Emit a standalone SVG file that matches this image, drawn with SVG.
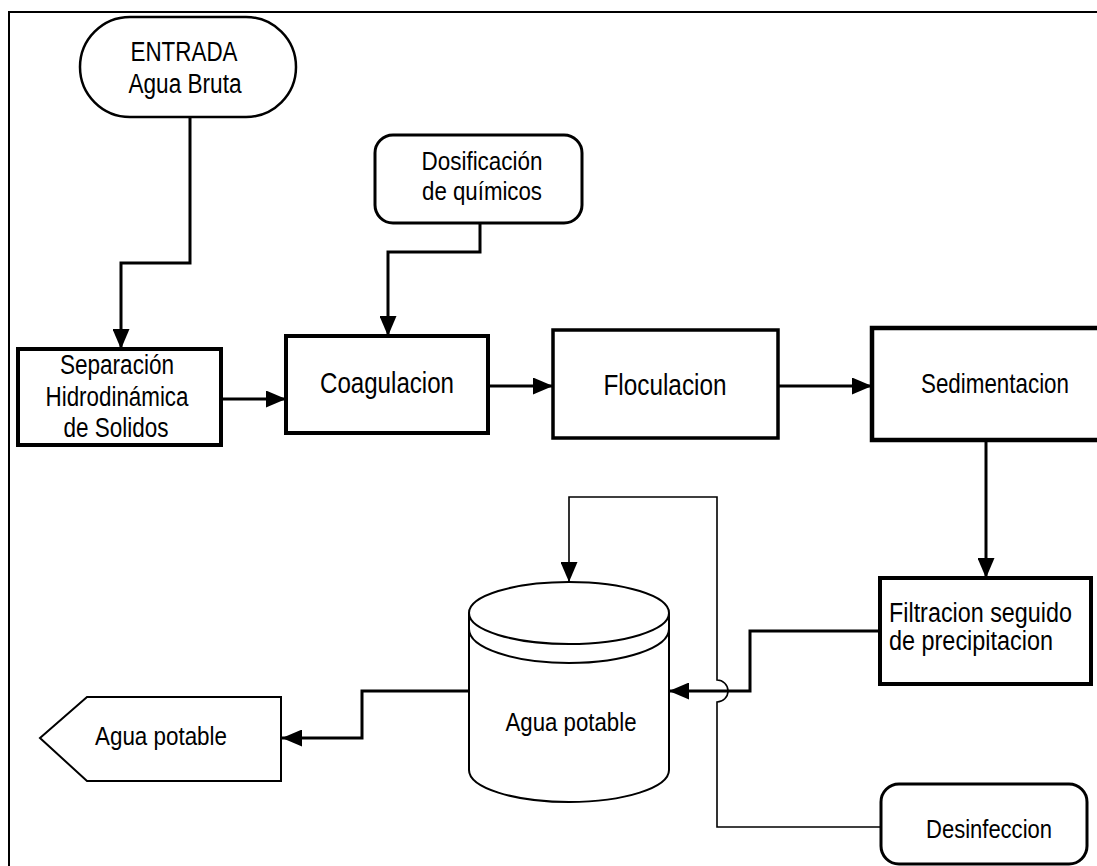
<svg xmlns="http://www.w3.org/2000/svg" width="1097" height="866" viewBox="0 0 1097 866">
<defs>
<style>
text{font-family:"Liberation Sans",Arial,sans-serif;fill:#000;text-anchor:middle}
.box{fill:#fff;stroke:#000;stroke-width:4}
.rnd{fill:#fff;stroke:#000;stroke-width:3}
.thin{fill:#fff;stroke:#000;stroke-width:2}
.con{fill:none;stroke:#000;stroke-width:3}
.tcon{fill:none;stroke:#000;stroke-width:1.6}
</style>
<marker id="ah" markerUnits="userSpaceOnUse" markerWidth="21" markerHeight="17" refX="20" refY="8.5" orient="auto">
<path d="M0,0 L20,8.5 L0,17 z" fill="#000"/>
</marker>
</defs>
<rect x="0" y="0" width="1097" height="866" fill="#fff"/>
<rect x="9" y="12" width="1100" height="870" fill="none" stroke="#000" stroke-width="2"/>

<g id="connectors">
<path class="con" d="M190,117 V263 H121 V349" marker-end="url(#ah)"/>
<path class="con" d="M480,223 V252 H388 V336" marker-end="url(#ah)"/>
<path class="con" d="M221,399 H286" marker-end="url(#ah)"/>
<path class="con" d="M488,386 H553" marker-end="url(#ah)"/>
<path class="con" d="M778,386 H872" marker-end="url(#ah)"/>
<path class="con" d="M986,440 V578" marker-end="url(#ah)"/>
<path class="con" d="M880,631 H750 V691 H669" marker-end="url(#ah)"/>
<path class="tcon" d="M881,827 H717 V702 A11,11 0 0 0 717,680 V497 H569 V582" marker-end="url(#ah)"/>
<path class="con" d="M469,691 H362 V738 H282" marker-end="url(#ah)"/>
</g>

<g id="entrada">
<rect x="80" y="17" width="216" height="100" rx="50" class="thin" style="stroke-width:2.5"/>
<text x="184" y="61" font-size="27" textLength="107" lengthAdjust="spacingAndGlyphs">ENTRADA</text>
<text x="185" y="93" font-size="27" textLength="113" lengthAdjust="spacingAndGlyphs">Agua Bruta</text>
</g>

<g id="dosificacion">
<rect x="375" y="135" width="207" height="88" rx="18" class="rnd"/>
<text x="482" y="170" font-size="26" textLength="121" lengthAdjust="spacingAndGlyphs">Dosificación</text>
<text x="482" y="200" font-size="26" textLength="120" lengthAdjust="spacingAndGlyphs">de químicos</text>
</g>

<g id="separacion">
<rect x="18" y="349" width="203" height="96" class="box"/>
<text x="117" y="374" font-size="27" textLength="114" lengthAdjust="spacingAndGlyphs">Separación</text>
<text x="117" y="406" font-size="27" textLength="143" lengthAdjust="spacingAndGlyphs">Hidrodinámica</text>
<text x="116" y="437" font-size="27" textLength="105" lengthAdjust="spacingAndGlyphs">de Solidos</text>
</g>

<g id="coagulacion">
<rect x="286" y="336" width="202" height="97" class="box"/>
<text x="387" y="393" font-size="30" textLength="134" lengthAdjust="spacingAndGlyphs">Coagulacion</text>
</g>

<g id="floculacion">
<rect x="553" y="330" width="225" height="108" class="box" style="stroke-width:3.5"/>
<text x="665" y="395" font-size="30" textLength="123" lengthAdjust="spacingAndGlyphs">Floculacion</text>
</g>

<g id="sedimentacion">
<rect x="872" y="328" width="246" height="112" class="box" style="stroke-width:4.5"/>
<text x="995" y="393" font-size="28" textLength="148" lengthAdjust="spacingAndGlyphs">Sedimentacion</text>
</g>

<g id="filtracion">
<rect x="880" y="578" width="211" height="106" class="box"/>
<text x="889" y="622" font-size="27" textLength="183" lengthAdjust="spacingAndGlyphs" style="text-anchor:start">Filtracion seguido</text>
<text x="889" y="650" font-size="27" textLength="164" lengthAdjust="spacingAndGlyphs" style="text-anchor:start">de precipitacion</text>
</g>

<g id="tanque">
<path class="thin" d="M469,613 V770 A100,32 0 0 0 669,770 V613"/>
<ellipse cx="569" cy="613" rx="100" ry="31" class="thin"/>
<path fill="none" stroke="#000" stroke-width="2" d="M469,629 A100,34 0 0 0 669,629"/>
<text x="571" y="731" font-size="26" textLength="131" lengthAdjust="spacingAndGlyphs">Agua potable</text>
</g>

<g id="salida">
<polygon points="40,738 87,697 281,697 281,781 87,781" class="thin"/>
<text x="161" y="745" font-size="26" textLength="132" lengthAdjust="spacingAndGlyphs">Agua potable</text>
</g>

<g id="desinfeccion">
<rect x="881" y="784" width="206" height="80" rx="18" class="rnd"/>
<text x="989" y="838" font-size="26" textLength="126" lengthAdjust="spacingAndGlyphs">Desinfeccion</text>
</g>
</svg>
